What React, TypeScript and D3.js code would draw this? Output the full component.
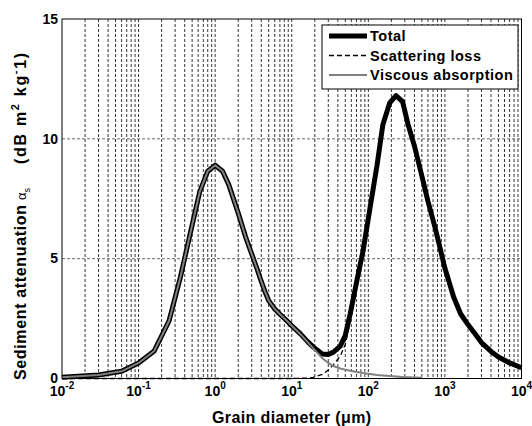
import React, { useEffect, useRef } from 'react';
import * as d3 from 'd3';

// grain diameters in micrometres
const grainDiameter = [
  0.01, 0.03, 0.06, 0.1, 0.16, 0.25, 0.35, 0.5, 0.63, 0.8, 1, 1.25, 1.5, 2, 2.5, 3.5, 4, 4.5, 5, 6,
  7, 8.5, 10, 13, 16, 19, 25, 30, 35, 43, 50, 58, 71, 85, 105, 130, 155, 190, 230, 280,
  330, 400, 500, 600, 750, 1000, 1300, 1600, 2000, 2500, 3000, 4000, 5000, 7000, 10000,
];

const totalAtten = [
  0.05, 0.15, 0.3, 0.65, 1.15, 2.4, 4.2, 6.4, 7.8, 8.65, 8.9, 8.65, 8.1, 6.9, 5.9, 4.6, 4.05, 3.6, 3.25, 2.9,
  2.68, 2.43, 2.2, 1.86, 1.55, 1.32, 1.02, 1.0, 1.1, 1.35, 1.8, 2.7, 4.1, 5.3, 7.1, 8.9, 10.6, 11.5, 11.8, 11.55,
  10.6, 9.7, 8.45, 7.4, 6.25, 4.6, 3.4, 2.7, 2.25, 1.85, 1.5, 1.13, 0.9, 0.65, 0.45,
];

const scatterLoss = [
  0, 0, 0, 0, 0, 0, 0, 0, 0, 0, 0, 0, 0, 0, 0, 0, 0, 0, 0, 0,
  0, 0, 0, 0.01, 0.02, 0.05, 0.17, 0.35, 0.58, 0.93, 1.42, 2.37, 3.83, 5.07, 6.91, 8.75, 10.47, 11.4, 11.72, 11.49,
  10.55, 9.66, 8.42, 7.4, 6.25, 4.6, 3.4, 2.7, 2.25, 1.85, 1.5, 1.13, 0.9, 0.65, 0.45,
];

// viscous absorption only computed up to ~500 um
const viscousAbs = [
  0.05, 0.15, 0.3, 0.65, 1.15, 2.4, 4.2, 6.4, 7.8, 8.65, 8.9, 8.65, 8.1, 6.9, 5.9, 4.6, 4.05, 3.6, 3.25, 2.9,
  2.68, 2.43, 2.2, 1.85, 1.53, 1.27, 0.85, 0.65, 0.52, 0.42, 0.37, 0.32, 0.27, 0.23, 0.19, 0.15, 0.13, 0.1, 0.08, 0.06,
  0.05, 0.04, 0.03,
];

const yTicks = [0, 5, 10, 15];
const xDecades = [-2, -1, 0, 1, 2, 3, 4];
const legendLabels = ['Total', 'Scattering loss', 'Viscous absorption'];

const FONT = "'Liberation Sans', Arial, sans-serif";

const App = () => {
  const svgRef = useRef<SVGSVGElement>(null);
  const width = 532;
  const height = 426;

  useEffect(() => {
    const svg = d3.select(svgRef.current);
    svg.selectAll('*').remove();

    const margin = { top: 19, right: 10.5, bottom: 47.5, left: 62 };
    const innerWidth = width - margin.left - margin.right;
    const innerHeight = height - margin.top - margin.bottom;

    const x = d3.scaleLog().domain([1e-2, 1e4]).range([0, innerWidth]);
    const y = d3.scaleLinear().domain([0, 15]).range([innerHeight, 0]);

    const g = svg.append('g').attr('transform', `translate(${margin.left},${margin.top})`);

    // vertical log grid (major + minor)
    const gridVals: number[] = [];
    for (let e = -2; e < 4; e++) {
      for (let k = 1; k <= 9; k++) gridVals.push(k * Math.pow(10, e));
    }
    g.selectAll('.vgrid')
      .data(gridVals.filter(v => v > 1e-2))
      .enter().append('line')
      .attr('x1', d => x(d)).attr('x2', d => x(d))
      .attr('y1', 0).attr('y2', innerHeight)
      .attr('stroke', '#000')
      .attr('stroke-width', 0.8)
      .attr('stroke-dasharray', '3,2');

    // horizontal grid
    g.selectAll('.hgrid')
      .data(yTicks.filter(v => v > 0 && v < 15))
      .enter().append('line')
      .attr('x1', 0).attr('x2', innerWidth)
      .attr('y1', d => y(d)).attr('y2', d => y(d))
      .attr('stroke', '#444')
      .attr('stroke-width', 0.8)
      .attr('stroke-dasharray', '3,2');

    const line = d3.line<[number, number]>()
      .x(d => x(d[0]))
      .y(d => y(d[1]));

    const totalPts = grainDiameter.map((d, i) => [d, totalAtten[i]] as [number, number]);
    const scatterPts = grainDiameter.map((d, i) => [d, scatterLoss[i]] as [number, number]);
    const viscPts = viscousAbs.map((v, i) => [grainDiameter[i], v] as [number, number]);

    g.append('path').datum(totalPts)
      .attr('d', line).attr('fill', 'none')
      .attr('stroke', '#000').attr('stroke-width', 5).attr('stroke-linejoin', 'round');

    g.append('path').datum(scatterPts)
      .attr('d', line).attr('fill', 'none')
      .attr('stroke', '#000').attr('stroke-width', 1.3).attr('stroke-dasharray', '5,3');

    g.append('path').datum(viscPts)
      .attr('d', line).attr('fill', 'none')
      .attr('stroke', '#808080').attr('stroke-width', 2).attr('stroke-linejoin', 'round');

    // box
    g.append('rect')
      .attr('x', 0).attr('y', 0).attr('width', innerWidth).attr('height', innerHeight)
      .attr('fill', 'none').attr('stroke', '#000').attr('stroke-width', 1);

    // y tick labels
    g.selectAll('.ytick')
      .data(yTicks)
      .enter().append('text')
      .attr('x', -4)
      .attr('y', d => y(d))
      .attr('dy', '0.34em')
      .attr('text-anchor', 'end')
      .attr('font-family', FONT).attr('font-weight', 'bold').attr('font-size', 14)
      .text(d => d);

    // x tick labels 10^n
    const xt = g.selectAll('.xtick')
      .data(xDecades)
      .enter().append('text')
      .attr('x', d => x(Math.pow(10, d)))
      .attr('y', innerHeight + 17)
      .attr('text-anchor', 'middle')
      .attr('font-family', FONT).attr('font-weight', 'bold').attr('font-size', 14);
    xt.append('tspan').text('10');
    xt.append('tspan').attr('font-size', 10).attr('dy', -7).text(d => d);

    // axis titles
    g.append('text')
      .attr('x', innerWidth / 2)
      .attr('y', innerHeight + 44)
      .attr('text-anchor', 'middle')
      .attr('font-family', FONT).attr('font-weight', 'bold').attr('font-size', 16)
      .attr('letter-spacing', 0.4)
      .text('Grain diameter (\u03bcm)');

    // y title, in three pieces running upward from the bottom
    const ylX = 26 - margin.left;
    g.append('text')
      .attr('transform', `translate(${ylX},${380 - margin.top}) rotate(-90)`)
      .attr('font-family', FONT).attr('font-weight', 'bold').attr('font-size', 16)
      .attr('textLength', 175).attr('lengthAdjust', 'spacing')
      .text('Sediment attenuation');

    const alpha = g.append('text')
      .attr('transform', `translate(${ylX},${200 - margin.top}) rotate(-90)`)
      .attr('font-family', FONT).attr('font-size', 13);
    alpha.append('tspan').text('\u03b1');
    alpha.append('tspan').attr('font-size', 9).attr('dy', 4).text('s');

    const units = g.append('text')
      .attr('transform', `translate(${ylX},${164 - margin.top}) rotate(-90)`)
      .attr('font-family', FONT).attr('font-weight', 'bold').attr('font-size', 16)
      .attr('letter-spacing', 1.7);
    units.append('tspan').text('(dB m');
    units.append('tspan').attr('font-size', 11).attr('dy', -7).text('2');
    units.append('tspan').attr('dy', 7).text(' kg');
    units.append('tspan').attr('font-size', 11).attr('dy', -7).text('-');
    units.append('tspan').attr('dy', 7).text('1)');

    // legend
    const lx = 322 - margin.left;
    const ly = 25 - margin.top;
    const legend = g.append('g').attr('transform', `translate(${lx},${ly})`);
    legend.append('rect')
      .attr('width', 196).attr('height', 64)
      .attr('fill', '#fff').attr('stroke', '#000').attr('stroke-width', 1);

    const styles = [
      { stroke: '#000', w: 5, dash: null },
      { stroke: '#000', w: 1.3, dash: '5,3' },
      { stroke: '#808080', w: 2, dash: null },
    ];
    const item = legend.selectAll('.item')
      .data(legendLabels)
      .enter().append('g')
      .attr('transform', (d, i) => `translate(0,${11 + i * 19.5})`);
    item.append('line')
      .attr('x1', 7).attr('x2', 45).attr('y1', 0).attr('y2', 0)
      .attr('stroke', (d, i) => styles[i].stroke)
      .attr('stroke-width', (d, i) => styles[i].w)
      .attr('stroke-dasharray', (d, i) => styles[i].dash);
    item.append('text')
      .attr('x', 48).attr('dy', '0.36em')
      .attr('font-family', FONT).attr('font-weight', 'bold').attr('font-size', 14.5)
      .attr('letter-spacing', 0.5)
      .text(d => d);
  }, []);

  return (
    <div style={{ position: 'absolute', left: 0, top: 0, background: '#fff' }}>
      <svg ref={svgRef} width={width} height={height}></svg>
    </div>
  );
};

export default App;
